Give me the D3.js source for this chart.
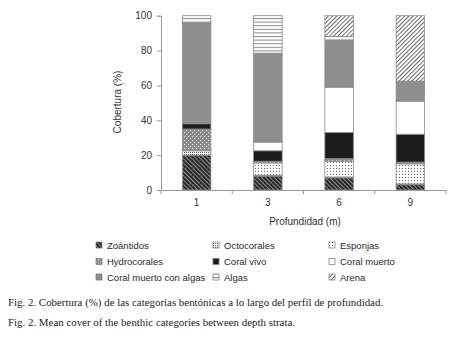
<!DOCTYPE html>
<html>
<head>
<meta charset="utf-8">
<script src="https://cdn.jsdelivr.net/npm/d3@7"></script>
<style>
  body { margin: 0; background: #fff; }
  svg { display: block; }
</style>
</head>
<body>
<svg id="chart" width="454" height="342"></svg>
<script>
// ----- data -----
const depths = ["1", "3", "6", "9"];
const categories = [
  "Zoántidos", "Octocorales", "Esponjas",
  "Hydrocorales", "Coral vivo", "Coral muerto",
  "Coral muerto con algas", "Algas", "Arena"
];
// % cover per depth, bottom to top of each bar
const zoantidos   = [20, 8, 7, 3];
const octocorales = [2.5, 0.5, 0.5, 0.5];
const esponjas    = [0.5, 7, 9, 11.5];
const hydrocorales = [12, 1, 1.5, 1];
const coralVivo   = [3, 6, 15, 16];
const coralMuerto = [0, 5, 26, 19];
const coralAlgas  = [58, 51, 27, 11];
const algas       = [4, 21.5, 2, 0.5];
const arena       = [0, 0, 12, 37.5];
const yTicks = [0, 20, 40, 60, 80, 100];

const seriesValues = [zoantidos, octocorales, esponjas, hydrocorales,
  coralVivo, coralMuerto, coralAlgas, algas, arena];

const rows = depths.map((d, i) => {
  const r = { depth: d };
  categories.forEach((c, k) => r[c] = seriesValues[k][i]);
  return r;
});

const svg = d3.select("svg#chart");
const defs = svg.append("defs");

// ----- patterns -----
function pat(id, w, h, bg, draw, rot) {
  const p = defs.append("pattern")
    .attr("id", id)
    .attr("patternUnits", "userSpaceOnUse")
    .attr("width", w).attr("height", h);
  if (rot) p.attr("patternTransform", `rotate(${rot})`);
  p.append("rect").attr("width", w).attr("height", h).attr("fill", bg);
  draw(p);
}
pat("p-zoa", 3, 3, "#2b2b2b", p => p.append("rect").attr("width", 3).attr("height", 1).attr("fill", "#8a8a8a"), 45);
pat("p-octo", 2, 2, "#ffffff", p => p.append("rect").attr("width", 1).attr("height", 1).attr("fill", "#555"));
pat("p-espo", 3, 3, "#ffffff", p => p.append("rect").attr("width", 1).attr("height", 1).attr("fill", "#666"));
pat("p-hydro", 4, 4, "#8c8c8c", p => {
  p.append("rect").attr("x", 0).attr("y", 0).attr("width", 1).attr("height", 1).attr("fill", "#e8e8e8");
  p.append("rect").attr("x", 2).attr("y", 2).attr("width", 1).attr("height", 1).attr("fill", "#e8e8e8");
});
pat("p-algas", 4, 3.6, "#ffffff", p => p.append("rect").attr("width", 4).attr("height", 1).attr("fill", "#8a8a8a"));
pat("p-arena", 3, 3, "#ffffff", p => p.append("rect").attr("width", 3).attr("height", 0.9).attr("fill", "#5a5a5a"), -45);

const fills = {
  "Zoántidos": "url(#p-zoa)",
  "Octocorales": "url(#p-octo)",
  "Esponjas": "url(#p-espo)",
  "Hydrocorales": "url(#p-hydro)",
  "Coral vivo": "#1c1c1c",
  "Coral muerto": "#ffffff",
  "Coral muerto con algas": "#8f8f8f",
  "Algas": "url(#p-algas)",
  "Arena": "url(#p-arena)"
};

// ----- scales -----
const x = d3.scaleBand().domain(depths).range([161, 446])
  .paddingInner(0.6).paddingOuter(0.3);
const y = d3.scaleLinear().domain([0, 100]).range([190, 15.7]);

const stack = d3.stack().keys(categories)(rows);

const bars = svg.append("g");
stack.forEach(s => {
  bars.selectAll(null)
    .data(s)
    .join("rect")
    .attr("x", d => x(d.data.depth))
    .attr("width", x.bandwidth())
    .attr("y", d => y(d[1]))
    .attr("height", d => y(d[0]) - y(d[1]))
    .attr("fill", fills[s.key])
    .attr("stroke", "#8a8a8a")
    .attr("stroke-width", 0.8);
});

// ----- axes -----
const axisCol = "#9a9a9a";
const yAxis = svg.append("g").attr("transform", "translate(161,0)")
  .call(d3.axisLeft(y).tickValues(yTicks).tickSize(4).tickPadding(5));
yAxis.select(".domain").attr("stroke", axisCol);
yAxis.selectAll(".tick line").attr("stroke", axisCol);
yAxis.selectAll("text").attr("font-family", "Liberation Sans, Arial, sans-serif")
  .attr("font-size", 10).attr("fill", "#333");

const xAxis = svg.append("g").attr("transform", "translate(0,190)")
  .call(d3.axisBottom(x).tickSize(0).tickPadding(9));
xAxis.select(".domain").attr("stroke", axisCol);
xAxis.selectAll("text").attr("font-family", "Liberation Sans, Arial, sans-serif")
  .attr("font-size", 10).attr("fill", "#333");
// ticks between categories
const edges = d3.range(depths.length + 1).map(i => x.range()[0] + i * x.step());
svg.append("g").selectAll("line").data(edges).join("line")
  .attr("x1", d => d).attr("x2", d => d)
  .attr("y1", 190).attr("y2", 194)
  .attr("stroke", axisCol);

svg.append("text")
  .attr("transform", "translate(121,102) rotate(-90)")
  .attr("text-anchor", "middle")
  .attr("font-family", "Liberation Sans, Arial, sans-serif")
  .attr("font-size", 10).attr("fill", "#333")
  .text("Cobertura (%)");

svg.append("text")
  .attr("x", 305).attr("y", 225)
  .attr("text-anchor", "middle")
  .attr("font-family", "Liberation Sans, Arial, sans-serif")
  .attr("font-size", 10).attr("fill", "#333")
  .text("Profundidad (m)");

// ----- legend -----
const colX = [96, 213, 329];
const rowY = [245, 261.5, 277];
const legend = svg.append("g");
categories.forEach((c, i) => {
  const g = legend.append("g")
    .attr("transform", `translate(${colX[i % 3]},${rowY[Math.floor(i / 3)]})`);
  g.append("rect").attr("x", 0).attr("y", -3).attr("width", 6).attr("height", 6)
    .attr("fill", fills[c]).attr("stroke", "#777").attr("stroke-width", 0.7);
  g.append("text").attr("x", 11).attr("y", 3.5)
    .attr("font-family", "Liberation Sans, Arial, sans-serif")
    .attr("font-size", 9.5).attr("fill", "#2a2a2a")
    .text(c);
});

// ----- captions -----
const caps = [
  "Fig. 2. Cobertura (%) de las categorías bentónicas a lo largo del perfil de profundidad.",
  "Fig. 2. Mean cover of the benthic categories between depth strata."
];
svg.append("g").selectAll("text").data(caps).join("text")
  .attr("x", 8).attr("y", (d, i) => 305.5 + i * 20.5)
  .attr("font-family", "Liberation Serif, Times New Roman, serif")
  .attr("font-size", 10.9).attr("fill", "#222")
  .text(d => d);
</script>
</body>
</html>
